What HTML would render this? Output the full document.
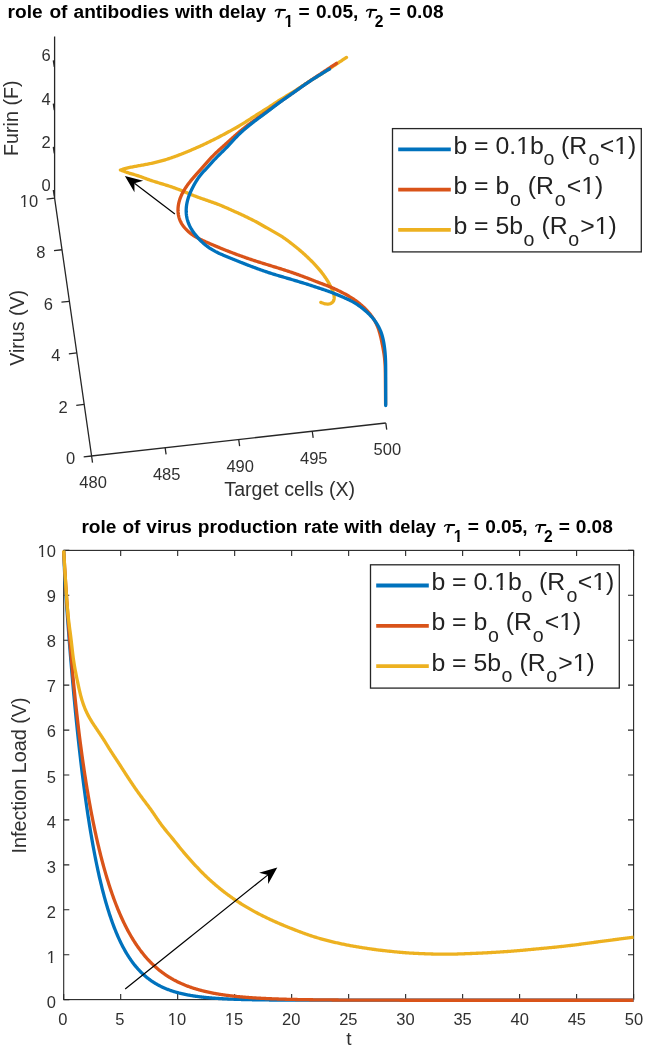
<!DOCTYPE html><html><head><meta charset="utf-8"><style>html,body{margin:0;padding:0;background:#fff;}svg{display:block;filter:blur(0.45px);}</style></head><body><svg width="645" height="1049" viewBox="0 0 645 1049" font-family="&quot;Liberation Sans&quot;, sans-serif" fill="#303030">
<rect width="645" height="1049" fill="#fff"/>
<text x="7.54" y="17.50" font-size="19.1" font-weight="bold" fill="#000">role</text>
<text x="49.45" y="17.50" font-size="19.1" font-weight="bold" fill="#000">of</text>
<text x="73.54" y="17.50" font-size="19.1" font-weight="bold" fill="#000">antibodies</text>
<text x="174.96" y="17.50" font-size="19.1" font-weight="bold" fill="#000">with</text>
<text x="218.74" y="17.50" font-size="18.5" font-weight="bold" fill="#000">delay</text>
<g transform="translate(274.80,8.80)" fill="none" stroke="#000" stroke-linecap="round"><path d="M0.5,2.3 Q1.3,0.6 3.4,0.7 L10.3,0.9" stroke-width="1.35"/><path d="M6.0,1.1 L10.2,1.1" stroke-width="2.0"/><path d="M5.0,1.6 L3.6,8.1" stroke-width="2.0"/></g>
<text x="284.52" y="26.60" font-size="15.6" font-weight="bold" fill="#000">1</text>
<text x="298.50" y="17.50" font-size="19.1" font-weight="bold" fill="#000">=</text>
<text x="315.94" y="17.50" font-size="19.1" font-weight="bold" fill="#000">0.05,</text>
<g transform="translate(366.00,8.80)" fill="none" stroke="#000" stroke-linecap="round"><path d="M0.5,2.3 Q1.3,0.6 3.4,0.7 L10.3,0.9" stroke-width="1.35"/><path d="M6.0,1.1 L10.2,1.1" stroke-width="2.0"/><path d="M5.0,1.6 L3.6,8.1" stroke-width="2.0"/></g>
<text x="374.75" y="26.90" font-size="15.6" font-weight="bold" fill="#000">2</text>
<text x="389.50" y="17.50" font-size="19.1" font-weight="bold" fill="#000">=</text>
<text x="406.44" y="17.50" font-size="19.1" font-weight="bold" fill="#000">0.08</text>
<text x="81.44" y="532.60" font-size="19.1" font-weight="bold" fill="#000">role</text>
<text x="122.45" y="532.60" font-size="19.1" font-weight="bold" fill="#000">of</text>
<text x="146.33" y="532.60" font-size="19.1" font-weight="bold" fill="#000">virus</text>
<text x="197.84" y="532.60" font-size="19.1" font-weight="bold" fill="#000">production</text>
<text x="303.84" y="532.60" font-size="19.1" font-weight="bold" fill="#000">rate</text>
<text x="344.26" y="532.60" font-size="19.1" font-weight="bold" fill="#000">with</text>
<text x="389.05" y="532.60" font-size="18.3" font-weight="bold" fill="#000">delay</text>
<g transform="translate(444.00,523.90)" fill="none" stroke="#000" stroke-linecap="round"><path d="M0.5,2.3 Q1.3,0.6 3.4,0.7 L10.3,0.9" stroke-width="1.35"/><path d="M6.0,1.1 L10.2,1.1" stroke-width="2.0"/><path d="M5.0,1.6 L3.6,8.1" stroke-width="2.0"/></g>
<text x="453.72" y="541.70" font-size="15.6" font-weight="bold" fill="#000">1</text>
<text x="467.70" y="532.60" font-size="19.1" font-weight="bold" fill="#000">=</text>
<text x="485.14" y="532.60" font-size="19.1" font-weight="bold" fill="#000">0.05,</text>
<g transform="translate(535.20,523.90)" fill="none" stroke="#000" stroke-linecap="round"><path d="M0.5,2.3 Q1.3,0.6 3.4,0.7 L10.3,0.9" stroke-width="1.35"/><path d="M6.0,1.1 L10.2,1.1" stroke-width="2.0"/><path d="M5.0,1.6 L3.6,8.1" stroke-width="2.0"/></g>
<text x="543.95" y="542.00" font-size="15.6" font-weight="bold" fill="#000">2</text>
<text x="558.70" y="532.60" font-size="19.1" font-weight="bold" fill="#000">=</text>
<text x="575.64" y="532.60" font-size="19.1" font-weight="bold" fill="#000">0.08</text>
<g stroke="#262626" stroke-width="1.3" fill="none" stroke-linecap="butt">
<path d="M54.6,36.6 L54.6,198.2 L91.6,456 L385.8,423"/>
<path d="M54.3,196.5 L53.3,190.0"/>
<path d="M54.3,153.3 L53.3,146.8"/>
<path d="M54.3,110.1 L53.3,103.6"/>
<path d="M54.3,66.9 L53.3,60.4"/>
<path d="M54.50,198.20 L46.60,199.10"/>
<path d="M61.92,249.76 L54.02,250.66"/>
<path d="M69.34,301.32 L61.44,302.22"/>
<path d="M76.76,352.88 L68.86,353.78"/>
<path d="M84.18,404.44 L76.28,405.34"/>
<path d="M91.60,456.00 L83.70,456.90"/>
<path d="M91.60,456.00 L92.53,462.60"/>
<path d="M165.15,447.75 L166.08,454.35"/>
<path d="M238.70,439.50 L239.63,446.10"/>
<path d="M312.25,431.25 L313.18,437.85"/>
<path d="M385.80,423.00 L386.73,429.60"/>
</g>
<text x="50.60" y="61.10" font-size="16.5" text-anchor="end" >6</text>
<text x="50.60" y="104.50" font-size="16.5" text-anchor="end" >4</text>
<text x="50.60" y="148.00" font-size="16.5" text-anchor="end" >2</text>
<text x="50.60" y="190.80" font-size="16.5" text-anchor="end" >0</text>
<text x="38.10" y="206.50" font-size="16.5" text-anchor="end" >10</text>
<text x="45.52" y="258.06" font-size="16.5" text-anchor="end" >8</text>
<text x="52.94" y="309.62" font-size="16.5" text-anchor="end" >6</text>
<text x="60.36" y="361.18" font-size="16.5" text-anchor="end" >4</text>
<text x="67.78" y="412.74" font-size="16.5" text-anchor="end" >2</text>
<text x="75.20" y="464.30" font-size="16.5" text-anchor="end" >0</text>
<text x="93.10" y="488.40" font-size="16.5" text-anchor="middle" >480</text>
<text x="166.65" y="480.15" font-size="16.5" text-anchor="middle" >485</text>
<text x="240.20" y="471.90" font-size="16.5" text-anchor="middle" >490</text>
<text x="313.75" y="463.65" font-size="16.5" text-anchor="middle" >495</text>
<text x="387.30" y="455.40" font-size="16.5" text-anchor="middle" >500</text>
<text x="289.70" y="496.20" font-size="19.6" text-anchor="middle" >Target cells (X)</text>
<text transform="translate(17.9,118.2) rotate(-90)" font-size="19.7" text-anchor="middle">Furin (F)</text>
<text transform="translate(23.8,327.9) rotate(-90)" font-size="19.6" text-anchor="middle">Virus (V)</text>
<g fill="none" stroke-width="3.3" stroke-linejoin="round" stroke-linecap="round">
<path stroke="#EDB120" stroke-linejoin="round" d="M346.50,57.40 L345.75,57.90 L344.99,58.40 L344.21,58.92 L343.42,59.45 L342.60,59.99 L341.77,60.54 L340.93,61.10 L340.08,61.67 L339.22,62.24 L338.36,62.81 L337.50,63.38 L336.65,63.95 L335.79,64.51 L334.94,65.08 L334.09,65.64 L333.24,66.21 L332.40,66.77 L331.55,67.33 L330.71,67.88 L329.87,68.44 L329.03,69.00 L328.20,69.55 L327.36,70.11 L326.52,70.66 L325.68,71.21 L324.85,71.76 L324.01,72.31 L323.17,72.85 L322.32,73.39 L321.48,73.93 L320.63,74.46 L319.79,74.99 L318.93,75.52 L318.08,76.04 L317.23,76.56 L316.37,77.08 L315.52,77.59 L314.66,78.11 L313.80,78.63 L312.95,79.14 L312.10,79.66 L311.25,80.19 L310.40,80.72 L309.55,81.25 L308.71,81.79 L307.87,82.33 L307.03,82.87 L306.20,83.42 L305.36,83.97 L304.53,84.53 L303.70,85.08 L302.87,85.63 L302.03,86.19 L301.20,86.74 L300.37,87.29 L299.53,87.84 L298.70,88.39 L297.86,88.93 L297.02,89.48 L296.18,90.02 L295.34,90.56 L294.49,91.09 L293.65,91.63 L292.80,92.16 L291.95,92.69 L291.10,93.21 L290.25,93.73 L289.39,94.25 L288.54,94.76 L287.68,95.28 L286.82,95.79 L285.96,96.29 L285.10,96.80 L284.24,97.31 L283.38,97.83 L282.53,98.34 L281.67,98.86 L280.82,99.39 L279.98,99.92 L279.13,100.45 L278.29,100.99 L277.45,101.54 L276.62,102.08 L275.79,102.64 L274.95,103.19 L274.12,103.74 L273.29,104.30 L272.46,104.85 L271.62,105.40 L270.79,105.95 L269.95,106.49 L269.11,107.03 L268.27,107.57 L267.42,108.11 L266.58,108.64 L265.73,109.17 L264.88,109.70 L264.04,110.23 L263.19,110.76 L262.34,111.29 L261.49,111.82 L260.65,112.35 L259.80,112.89 L258.95,113.42 L258.11,113.95 L257.26,114.49 L256.42,115.02 L255.58,115.56 L254.73,116.10 L253.89,116.64 L253.05,117.18 L252.21,117.72 L251.37,118.26 L250.53,118.80 L249.69,119.34 L248.85,119.88 L248.00,120.42 L247.16,120.96 L246.32,121.50 L245.48,122.04 L244.63,122.57 L243.79,123.11 L242.94,123.64 L242.09,124.16 L241.24,124.68 L240.38,125.20 L239.53,125.71 L238.66,126.22 L237.80,126.72 L236.93,127.22 L236.06,127.71 L235.19,128.20 L234.32,128.69 L233.45,129.17 L232.57,129.65 L231.69,130.13 L230.82,130.61 L229.94,131.09 L229.06,131.57 L228.18,132.05 L227.30,132.53 L226.43,133.00 L225.55,133.48 L224.67,133.95 L223.78,134.42 L222.90,134.89 L222.02,135.36 L221.14,135.83 L220.25,136.30 L219.37,136.76 L218.48,137.23 L217.59,137.69 L216.70,138.14 L215.81,138.60 L214.92,139.05 L214.03,139.50 L213.14,139.94 L212.24,140.39 L211.34,140.83 L210.44,141.27 L209.54,141.70 L208.64,142.14 L207.74,142.57 L206.84,143.01 L205.94,143.44 L205.04,143.87 L204.13,144.29 L203.23,144.72 L202.32,145.14 L201.42,145.56 L200.51,145.97 L199.60,146.39 L198.68,146.80 L197.77,147.21 L196.86,147.61 L195.94,148.01 L195.03,148.41 L194.11,148.81 L193.19,149.20 L192.27,149.60 L191.35,149.99 L190.43,150.39 L189.51,150.78 L188.59,151.17 L187.67,151.56 L186.75,151.94 L185.83,152.33 L184.90,152.71 L183.98,153.09 L183.05,153.46 L182.12,153.83 L181.19,154.19 L180.26,154.55 L179.33,154.91 L178.39,155.26 L177.46,155.61 L176.52,155.96 L175.58,156.30 L174.64,156.64 L173.70,156.98 L172.76,157.32 L171.81,157.65 L170.87,157.97 L169.92,158.30 L168.98,158.61 L168.03,158.92 L167.07,159.22 L166.12,159.52 L165.16,159.81 L164.21,160.09 L163.25,160.37 L162.28,160.63 L161.32,160.90 L160.36,161.16 L159.39,161.41 L158.42,161.66 L157.45,161.91 L156.48,162.16 L155.51,162.39 L154.54,162.63 L153.57,162.86 L152.59,163.08 L151.62,163.30 L150.64,163.51 L149.66,163.72 L148.68,163.92 L147.70,164.11 L146.72,164.30 L145.74,164.49 L144.75,164.67 L143.76,164.85 L142.78,165.03 L141.79,165.20 L140.80,165.38 L139.81,165.56 L138.82,165.73 L137.82,165.91 L136.83,166.09 L135.83,166.27 L134.83,166.45 L133.83,166.64 L132.82,166.83 L131.82,167.03 L130.81,167.24 L129.81,167.46 L128.80,167.69 L127.81,167.92 L126.82,168.17 L125.84,168.42 L124.88,168.68 L123.94,168.94 L123.02,169.20 L122.13,169.47 L121.26,169.73 L120.40,170.00 L120.40,170.00 L121.24,170.32 L122.11,170.65 L123.01,170.98 L123.93,171.33 L124.88,171.67 L125.84,172.02 L126.82,172.35 L127.79,172.68 L128.77,173.00 L129.74,173.30 L130.72,173.60 L131.69,173.88 L132.66,174.16 L133.63,174.44 L134.59,174.72 L135.56,175.01 L136.52,175.30 L137.47,175.60 L138.42,175.91 L139.37,176.23 L140.31,176.57 L141.25,176.90 L142.19,177.25 L143.13,177.60 L144.07,177.95 L145.00,178.30 L145.94,178.64 L146.88,178.99 L147.82,179.33 L148.76,179.67 L149.70,180.00 L150.65,180.32 L151.59,180.64 L152.54,180.95 L153.50,181.25 L154.45,181.55 L155.40,181.85 L156.36,182.15 L157.31,182.44 L158.27,182.73 L159.23,183.03 L160.18,183.32 L161.14,183.61 L162.10,183.90 L163.05,184.19 L164.01,184.48 L164.96,184.78 L165.92,185.07 L166.87,185.37 L167.83,185.67 L168.78,185.97 L169.73,186.28 L170.68,186.60 L171.63,186.92 L172.57,187.24 L173.51,187.57 L174.46,187.90 L175.40,188.24 L176.34,188.58 L177.28,188.93 L178.21,189.28 L179.15,189.63 L180.08,189.99 L181.01,190.36 L181.94,190.73 L182.86,191.11 L183.79,191.49 L184.71,191.87 L185.63,192.26 L186.55,192.64 L187.48,193.03 L188.40,193.42 L189.32,193.80 L190.24,194.19 L191.17,194.57 L192.09,194.95 L193.02,195.32 L193.95,195.69 L194.88,196.06 L195.81,196.41 L196.75,196.76 L197.69,197.10 L198.63,197.44 L199.57,197.78 L200.51,198.11 L201.46,198.44 L202.40,198.77 L203.34,199.09 L204.29,199.42 L205.23,199.75 L206.18,200.08 L207.12,200.41 L208.06,200.74 L209.01,201.08 L209.95,201.41 L210.89,201.74 L211.83,202.08 L212.78,202.41 L213.72,202.75 L214.66,203.08 L215.60,203.42 L216.54,203.77 L217.47,204.11 L218.41,204.47 L219.34,204.83 L220.27,205.20 L221.19,205.58 L222.11,205.97 L223.03,206.36 L223.95,206.75 L224.87,207.15 L225.78,207.56 L226.70,207.96 L227.61,208.37 L228.52,208.77 L229.44,209.18 L230.35,209.58 L231.26,209.99 L232.18,210.40 L233.09,210.81 L234.00,211.22 L234.91,211.63 L235.82,212.04 L236.74,212.45 L237.65,212.86 L238.56,213.27 L239.47,213.69 L240.38,214.10 L241.29,214.52 L242.19,214.93 L243.10,215.35 L244.01,215.78 L244.91,216.21 L245.81,216.64 L246.71,217.08 L247.61,217.52 L248.50,217.96 L249.40,218.40 L250.29,218.85 L251.19,219.30 L252.08,219.75 L252.97,220.20 L253.86,220.65 L254.75,221.11 L255.64,221.57 L256.52,222.04 L257.40,222.51 L258.28,222.99 L259.15,223.48 L260.02,223.96 L260.89,224.46 L261.76,224.95 L262.63,225.45 L263.50,225.95 L264.36,226.45 L265.23,226.95 L266.10,227.45 L266.96,227.94 L267.83,228.44 L268.70,228.94 L269.57,229.43 L270.43,229.93 L271.30,230.42 L272.18,230.91 L273.05,231.40 L273.92,231.89 L274.79,232.38 L275.66,232.87 L276.53,233.37 L277.40,233.86 L278.26,234.36 L279.12,234.87 L279.98,235.38 L280.83,235.91 L281.67,236.44 L282.51,236.99 L283.34,237.54 L284.16,238.11 L284.98,238.68 L285.79,239.26 L286.60,239.85 L287.41,240.44 L288.21,241.03 L289.01,241.63 L289.81,242.24 L290.60,242.84 L291.39,243.45 L292.18,244.07 L292.96,244.69 L293.75,245.31 L294.53,245.93 L295.31,246.56 L296.09,247.18 L296.87,247.81 L297.64,248.44 L298.41,249.08 L299.18,249.72 L299.95,250.36 L300.70,251.01 L301.46,251.67 L302.21,252.33 L302.96,252.99 L303.70,253.66 L304.44,254.33 L305.18,255.01 L305.91,255.69 L306.64,256.37 L307.37,257.05 L308.09,257.74 L308.82,258.43 L309.53,259.13 L310.25,259.83 L310.96,260.53 L311.66,261.24 L312.37,261.95 L313.06,262.66 L313.76,263.38 L314.45,264.11 L315.13,264.84 L315.81,265.57 L316.48,266.31 L317.15,267.05 L317.82,267.80 L318.48,268.55 L319.13,269.31 L319.77,270.07 L320.41,270.84 L321.03,271.62 L321.65,272.40 L322.25,273.20 L322.85,274.00 L323.44,274.80 L324.02,275.62 L324.60,276.43 L325.17,277.25 L325.73,278.08 L326.29,278.91 L326.83,279.75 L327.36,280.59 L327.89,281.44 L328.39,282.30 L328.88,283.16 L329.36,284.04 L329.83,284.92 L330.28,285.81 L330.72,286.71 L331.16,287.61 L331.58,288.51 L331.99,289.41 L332.39,290.33 L332.77,291.24 L333.12,292.17 L333.43,293.10 L333.71,294.04 L333.93,294.99 L334.10,295.94 L334.20,296.88 L334.22,297.82 L334.15,298.73 L333.98,299.60 L333.71,300.43 L333.32,301.21 L332.83,301.91 L332.23,302.52 L331.54,303.05 L330.77,303.47 L329.94,303.78 L329.06,303.98 L328.14,304.07 L327.20,304.06 L326.24,303.96 L325.28,303.79 L324.34,303.56 L323.41,303.29 L322.51,303.00 L321.64,302.70 L320.80,302.40"/>
<path stroke="#D95319" d="M336.50,63.30 L335.75,63.80 L334.99,64.30 L334.22,64.81 L333.44,65.33 L332.64,65.86 L331.82,66.41 L330.99,66.96 L330.15,67.51 L329.31,68.08 L328.45,68.64 L327.60,69.21 L326.74,69.78 L325.88,70.35 L325.02,70.92 L324.17,71.49 L323.31,72.06 L322.46,72.62 L321.61,73.19 L320.77,73.75 L319.92,74.31 L319.08,74.87 L318.24,75.43 L317.40,75.99 L316.56,76.55 L315.72,77.11 L314.89,77.67 L314.05,78.23 L313.22,78.79 L312.39,79.35 L311.56,79.91 L310.73,80.47 L309.90,81.04 L309.08,81.60 L308.25,82.17 L307.43,82.74 L306.61,83.30 L305.78,83.87 L304.96,84.44 L304.14,85.02 L303.32,85.59 L302.50,86.16 L301.68,86.74 L300.87,87.31 L300.05,87.89 L299.23,88.46 L298.41,89.04 L297.60,89.61 L296.78,90.19 L295.96,90.76 L295.15,91.34 L294.33,91.91 L293.51,92.49 L292.69,93.06 L291.87,93.64 L291.06,94.21 L290.24,94.78 L289.42,95.35 L288.59,95.92 L287.77,96.49 L286.95,97.06 L286.13,97.63 L285.31,98.20 L284.49,98.77 L283.67,99.34 L282.85,99.91 L282.03,100.48 L281.21,101.06 L280.40,101.63 L279.58,102.21 L278.77,102.79 L277.96,103.38 L277.15,103.96 L276.34,104.55 L275.53,105.13 L274.72,105.72 L273.91,106.31 L273.11,106.90 L272.30,107.49 L271.50,108.08 L270.69,108.67 L269.88,109.27 L269.08,109.86 L268.27,110.45 L267.46,111.03 L266.66,111.62 L265.85,112.21 L265.04,112.80 L264.23,113.38 L263.42,113.96 L262.60,114.54 L261.79,115.13 L260.98,115.70 L260.16,116.28 L259.35,116.86 L258.53,117.44 L257.71,118.01 L256.90,118.59 L256.08,119.17 L255.27,119.75 L254.46,120.33 L253.65,120.91 L252.84,121.50 L252.03,122.08 L251.22,122.67 L250.42,123.26 L249.61,123.86 L248.81,124.45 L248.01,125.05 L247.21,125.65 L246.41,126.25 L245.62,126.86 L244.83,127.46 L244.04,128.07 L243.25,128.69 L242.47,129.31 L241.69,129.93 L240.91,130.56 L240.14,131.20 L239.38,131.84 L238.62,132.48 L237.86,133.13 L237.10,133.79 L236.35,134.45 L235.61,135.11 L234.86,135.78 L234.12,136.44 L233.38,137.11 L232.64,137.78 L231.90,138.46 L231.16,139.13 L230.42,139.80 L229.68,140.48 L228.95,141.15 L228.21,141.82 L227.47,142.49 L226.72,143.16 L225.98,143.83 L225.24,144.50 L224.49,145.16 L223.75,145.83 L223.00,146.49 L222.26,147.16 L221.51,147.82 L220.76,148.49 L220.02,149.15 L219.28,149.82 L218.54,150.49 L217.80,151.16 L217.07,151.84 L216.34,152.52 L215.62,153.21 L214.90,153.90 L214.19,154.60 L213.49,155.31 L212.80,156.03 L212.11,156.75 L211.42,157.47 L210.75,158.21 L210.07,158.94 L209.41,159.68 L208.74,160.43 L208.08,161.17 L207.42,161.92 L206.76,162.67 L206.09,163.42 L205.43,164.17 L204.77,164.91 L204.10,165.66 L203.44,166.41 L202.77,167.15 L202.10,167.89 L201.43,168.63 L200.76,169.37 L200.09,170.11 L199.41,170.85 L198.74,171.59 L198.07,172.33 L197.40,173.07 L196.73,173.81 L196.07,174.56 L195.41,175.30 L194.75,176.05 L194.09,176.81 L193.44,177.56 L192.79,178.32 L192.15,179.09 L191.51,179.86 L190.88,180.63 L190.26,181.41 L189.64,182.19 L189.03,182.98 L188.43,183.78 L187.84,184.58 L187.26,185.39 L186.68,186.20 L186.12,187.02 L185.57,187.85 L185.03,188.68 L184.50,189.52 L183.99,190.38 L183.49,191.23 L183.01,192.10 L182.54,192.98 L182.10,193.86 L181.67,194.75 L181.26,195.65 L180.87,196.56 L180.50,197.48 L180.15,198.40 L179.83,199.33 L179.53,200.27 L179.25,201.22 L179.00,202.17 L178.78,203.13 L178.58,204.09 L178.41,205.06 L178.27,206.03 L178.16,207.00 L178.07,207.98 L178.02,208.96 L178.00,209.93 L178.01,210.91 L178.06,211.89 L178.14,212.86 L178.25,213.83 L178.39,214.79 L178.57,215.74 L178.79,216.69 L179.04,217.62 L179.33,218.55 L179.65,219.46 L180.01,220.36 L180.40,221.25 L180.83,222.12 L181.29,222.97 L181.78,223.81 L182.30,224.63 L182.85,225.44 L183.43,226.23 L184.03,227.00 L184.66,227.76 L185.30,228.50 L185.97,229.22 L186.65,229.93 L187.36,230.62 L188.08,231.30 L188.81,231.96 L189.56,232.60 L190.33,233.22 L191.11,233.83 L191.91,234.41 L192.71,234.98 L193.53,235.54 L194.37,236.07 L195.21,236.59 L196.07,237.10 L196.93,237.58 L197.80,238.06 L198.68,238.52 L199.57,238.97 L200.46,239.41 L201.36,239.85 L202.26,240.27 L203.17,240.69 L204.08,241.10 L204.99,241.51 L205.90,241.91 L206.81,242.31 L207.73,242.71 L208.65,243.11 L209.56,243.51 L210.48,243.90 L211.40,244.29 L212.32,244.69 L213.24,245.08 L214.16,245.47 L215.08,245.85 L216.00,246.24 L216.92,246.63 L217.85,247.01 L218.77,247.39 L219.69,247.78 L220.62,248.16 L221.54,248.54 L222.47,248.91 L223.39,249.29 L224.32,249.66 L225.25,250.03 L226.18,250.41 L227.10,250.77 L228.03,251.14 L228.96,251.50 L229.90,251.86 L230.83,252.22 L231.76,252.58 L232.70,252.94 L233.63,253.29 L234.57,253.64 L235.50,253.99 L236.44,254.33 L237.38,254.68 L238.32,255.03 L239.25,255.37 L240.19,255.71 L241.13,256.05 L242.07,256.39 L243.01,256.73 L243.95,257.07 L244.89,257.40 L245.84,257.74 L246.78,258.07 L247.72,258.40 L248.67,258.72 L249.61,259.04 L250.56,259.36 L251.51,259.68 L252.46,259.99 L253.40,260.30 L254.36,260.61 L255.31,260.92 L256.26,261.22 L257.21,261.52 L258.16,261.82 L259.12,262.12 L260.07,262.42 L261.03,262.71 L261.98,263.01 L262.93,263.31 L263.89,263.60 L264.84,263.90 L265.80,264.20 L266.75,264.49 L267.71,264.79 L268.66,265.09 L269.62,265.38 L270.57,265.68 L271.53,265.97 L272.48,266.27 L273.43,266.56 L274.39,266.86 L275.34,267.16 L276.30,267.45 L277.25,267.75 L278.21,268.05 L279.16,268.34 L280.11,268.64 L281.07,268.94 L282.02,269.24 L282.97,269.54 L283.93,269.84 L284.88,270.14 L285.83,270.45 L286.78,270.76 L287.73,271.07 L288.68,271.38 L289.63,271.70 L290.57,272.02 L291.52,272.34 L292.46,272.67 L293.41,273.00 L294.35,273.33 L295.29,273.66 L296.23,274.00 L297.17,274.33 L298.11,274.67 L299.05,275.01 L299.99,275.36 L300.93,275.70 L301.87,276.04 L302.80,276.39 L303.74,276.74 L304.68,277.09 L305.61,277.44 L306.55,277.79 L307.48,278.14 L308.41,278.50 L309.35,278.86 L310.28,279.22 L311.21,279.59 L312.14,279.95 L313.07,280.32 L314.00,280.69 L314.93,281.05 L315.86,281.42 L316.79,281.78 L317.72,282.14 L318.65,282.50 L319.58,282.86 L320.52,283.21 L321.45,283.56 L322.39,283.91 L323.32,284.26 L324.26,284.61 L325.19,284.96 L326.13,285.31 L327.06,285.66 L327.99,286.02 L328.92,286.39 L329.84,286.76 L330.76,287.14 L331.68,287.53 L332.60,287.92 L333.51,288.33 L334.42,288.74 L335.33,289.15 L336.23,289.57 L337.13,290.00 L338.03,290.44 L338.93,290.88 L339.82,291.32 L340.72,291.77 L341.61,292.22 L342.49,292.68 L343.38,293.14 L344.26,293.61 L345.14,294.08 L346.01,294.56 L346.88,295.05 L347.75,295.54 L348.61,296.04 L349.47,296.55 L350.32,297.07 L351.16,297.60 L352.00,298.14 L352.84,298.68 L353.67,299.24 L354.49,299.80 L355.30,300.38 L356.11,300.96 L356.91,301.55 L357.71,302.15 L358.50,302.76 L359.28,303.38 L360.05,304.00 L360.81,304.64 L361.57,305.29 L362.32,305.95 L363.05,306.62 L363.78,307.29 L364.50,307.98 L365.21,308.68 L365.91,309.39 L366.60,310.10 L367.28,310.83 L367.94,311.57 L368.60,312.32 L369.24,313.07 L369.87,313.84 L370.49,314.62 L371.09,315.41 L371.68,316.20 L372.26,317.01 L372.82,317.83 L373.37,318.66 L373.90,319.49 L374.41,320.34 L374.91,321.20 L375.39,322.06 L375.85,322.94 L376.29,323.82 L376.72,324.72 L377.12,325.62 L377.51,326.53 L377.88,327.45 L378.23,328.38 L378.56,329.31 L378.88,330.25 L379.17,331.20 L379.46,332.15 L379.73,333.10 L379.99,334.07 L380.24,335.03 L380.48,336.00 L380.71,336.97 L380.94,337.94 L381.16,338.91 L381.37,339.89 L381.58,340.86 L381.79,341.84 L381.99,342.82 L382.19,343.80 L382.39,344.78 L382.58,345.76 L382.77,346.74 L382.96,347.72 L383.14,348.70 L383.31,349.68 L383.48,350.67 L383.65,351.65 L383.81,352.64 L383.96,353.62 L384.10,354.61 L384.23,355.60 L384.36,356.59 L384.48,357.58 L384.59,358.57 L384.69,359.57 L384.78,360.56 L384.86,361.55 L384.94,362.55 L385.01,363.55 L385.07,364.54 L385.12,365.54 L385.17,366.54 L385.21,367.54 L385.24,368.53 L385.27,369.53 L385.29,370.53 L385.31,371.53 L385.33,372.53 L385.35,373.53 L385.36,374.54 L385.37,375.54 L385.38,376.54 L385.39,377.54 L385.40,378.55 L385.41,379.55 L385.42,380.56 L385.42,381.56 L385.43,382.57 L385.44,383.58 L385.45,384.59 L385.45,385.60 L385.46,386.62 L385.47,387.64 L385.48,388.66 L385.49,389.68 L385.49,390.71 L385.50,391.74 L385.51,392.77 L385.52,393.80 L385.52,394.83 L385.53,395.85 L385.54,396.87 L385.55,397.89 L385.55,398.89 L385.56,399.88 L385.57,400.85 L385.58,401.80 L385.58,402.73 L385.59,403.65 L385.60,404.55"/>
<path stroke="#0072BD" d="M329.50,69.00 L328.73,69.47 L327.96,69.94 L327.17,70.42 L326.36,70.91 L325.54,71.41 L324.71,71.92 L323.86,72.44 L323.00,72.97 L322.13,73.50 L321.26,74.03 L320.38,74.57 L319.50,75.11 L318.62,75.65 L317.75,76.19 L316.87,76.73 L316.00,77.27 L315.14,77.81 L314.27,78.35 L313.41,78.89 L312.56,79.44 L311.71,79.98 L310.86,80.53 L310.02,81.09 L309.18,81.64 L308.35,82.20 L307.51,82.77 L306.68,83.33 L305.86,83.90 L305.03,84.47 L304.21,85.04 L303.39,85.61 L302.57,86.19 L301.75,86.77 L300.93,87.34 L300.12,87.92 L299.30,88.50 L298.48,89.08 L297.67,89.65 L296.85,90.23 L296.04,90.81 L295.22,91.39 L294.40,91.96 L293.59,92.54 L292.77,93.12 L291.95,93.69 L291.14,94.27 L290.32,94.84 L289.50,95.41 L288.68,95.99 L287.86,96.56 L287.05,97.14 L286.23,97.71 L285.41,98.28 L284.59,98.86 L283.78,99.44 L282.96,100.02 L282.15,100.60 L281.34,101.18 L280.53,101.77 L279.72,102.36 L278.92,102.95 L278.12,103.54 L277.32,104.14 L276.52,104.74 L275.72,105.34 L274.92,105.94 L274.13,106.55 L273.33,107.15 L272.54,107.76 L271.74,108.36 L270.95,108.97 L270.16,109.58 L269.36,110.18 L268.57,110.79 L267.77,111.39 L266.97,111.99 L266.17,112.59 L265.37,113.19 L264.57,113.79 L263.77,114.39 L262.97,114.98 L262.16,115.57 L261.36,116.16 L260.55,116.75 L259.75,117.35 L258.95,117.94 L258.14,118.53 L257.34,119.13 L256.54,119.73 L255.74,120.33 L254.95,120.93 L254.16,121.54 L253.37,122.15 L252.58,122.77 L251.79,123.38 L251.01,124.00 L250.23,124.63 L249.45,125.25 L248.67,125.88 L247.90,126.51 L247.13,127.14 L246.36,127.78 L245.59,128.42 L244.83,129.06 L244.07,129.71 L243.32,130.37 L242.57,131.03 L241.83,131.69 L241.10,132.37 L240.37,133.05 L239.65,133.73 L238.93,134.43 L238.22,135.13 L237.52,135.84 L236.83,136.55 L236.13,137.27 L235.45,137.99 L234.76,138.72 L234.08,139.45 L233.40,140.18 L232.72,140.91 L232.05,141.65 L231.37,142.38 L230.69,143.12 L230.01,143.85 L229.33,144.58 L228.65,145.31 L227.96,146.04 L227.28,146.76 L226.58,147.48 L225.89,148.20 L225.19,148.91 L224.49,149.62 L223.78,150.32 L223.07,151.03 L222.36,151.73 L221.65,152.42 L220.93,153.12 L220.22,153.82 L219.50,154.51 L218.79,155.21 L218.09,155.92 L217.38,156.62 L216.68,157.33 L215.99,158.05 L215.30,158.77 L214.62,159.50 L213.94,160.23 L213.27,160.96 L212.60,161.70 L211.94,162.44 L211.27,163.19 L210.61,163.93 L209.94,164.67 L209.27,165.41 L208.60,166.14 L207.93,166.87 L207.25,167.60 L206.57,168.33 L205.89,169.05 L205.21,169.77 L204.52,170.49 L203.85,171.21 L203.18,171.94 L202.52,172.68 L201.86,173.42 L201.23,174.17 L200.60,174.94 L199.99,175.71 L199.39,176.50 L198.80,177.30 L198.23,178.10 L197.68,178.92 L197.13,179.75 L196.60,180.59 L196.08,181.44 L195.56,182.29 L195.06,183.15 L194.57,184.01 L194.08,184.88 L193.60,185.76 L193.14,186.64 L192.68,187.52 L192.23,188.41 L191.79,189.31 L191.36,190.21 L190.94,191.11 L190.54,192.02 L190.14,192.93 L189.76,193.85 L189.40,194.78 L189.05,195.70 L188.71,196.64 L188.40,197.58 L188.10,198.52 L187.82,199.47 L187.56,200.43 L187.32,201.39 L187.10,202.35 L186.90,203.32 L186.73,204.29 L186.58,205.27 L186.45,206.25 L186.34,207.23 L186.27,208.21 L186.21,209.19 L186.18,210.18 L186.18,211.16 L186.21,212.15 L186.26,213.13 L186.34,214.11 L186.44,215.09 L186.57,216.06 L186.74,217.03 L186.93,217.99 L187.14,218.95 L187.39,219.90 L187.66,220.84 L187.97,221.77 L188.29,222.70 L188.65,223.61 L189.03,224.52 L189.44,225.42 L189.86,226.30 L190.32,227.18 L190.79,228.04 L191.29,228.90 L191.80,229.74 L192.34,230.57 L192.89,231.39 L193.46,232.21 L194.04,233.01 L194.64,233.80 L195.25,234.58 L195.87,235.36 L196.51,236.13 L197.15,236.88 L197.80,237.63 L198.47,238.38 L199.14,239.11 L199.82,239.83 L200.51,240.54 L201.21,241.24 L201.93,241.93 L202.65,242.61 L203.38,243.27 L204.13,243.92 L204.89,244.56 L205.66,245.18 L206.45,245.79 L207.24,246.38 L208.04,246.96 L208.86,247.53 L209.68,248.09 L210.51,248.63 L211.35,249.16 L212.20,249.68 L213.05,250.18 L213.92,250.68 L214.79,251.16 L215.66,251.63 L216.55,252.08 L217.44,252.53 L218.33,252.96 L219.23,253.39 L220.14,253.80 L221.05,254.21 L221.96,254.61 L222.88,255.01 L223.79,255.40 L224.71,255.79 L225.63,256.17 L226.56,256.56 L227.48,256.94 L228.40,257.32 L229.33,257.70 L230.25,258.07 L231.18,258.45 L232.11,258.82 L233.03,259.20 L233.96,259.57 L234.89,259.95 L235.81,260.32 L236.74,260.69 L237.67,261.06 L238.60,261.43 L239.52,261.81 L240.45,262.18 L241.38,262.55 L242.31,262.91 L243.24,263.28 L244.17,263.65 L245.10,264.01 L246.03,264.38 L246.96,264.74 L247.89,265.10 L248.82,265.46 L249.76,265.82 L250.69,266.17 L251.62,266.52 L252.56,266.87 L253.50,267.22 L254.43,267.57 L255.37,267.91 L256.31,268.26 L257.25,268.60 L258.19,268.94 L259.13,269.28 L260.07,269.61 L261.01,269.95 L261.95,270.29 L262.89,270.62 L263.83,270.95 L264.78,271.28 L265.72,271.61 L266.67,271.93 L267.61,272.25 L268.56,272.57 L269.51,272.88 L270.46,273.19 L271.41,273.49 L272.36,273.79 L273.32,274.09 L274.27,274.39 L275.23,274.68 L276.18,274.96 L277.14,275.25 L278.10,275.53 L279.06,275.82 L280.01,276.10 L280.97,276.38 L281.93,276.66 L282.89,276.94 L283.85,277.22 L284.81,277.50 L285.77,277.78 L286.73,278.06 L287.69,278.34 L288.65,278.62 L289.60,278.91 L290.56,279.19 L291.52,279.47 L292.48,279.76 L293.44,280.04 L294.39,280.33 L295.35,280.61 L296.31,280.90 L297.27,281.18 L298.22,281.47 L299.18,281.76 L300.14,282.05 L301.09,282.34 L302.05,282.63 L303.01,282.92 L303.96,283.21 L304.92,283.50 L305.87,283.80 L306.82,284.10 L307.78,284.40 L308.73,284.70 L309.68,285.01 L310.63,285.31 L311.58,285.62 L312.53,285.94 L313.48,286.25 L314.42,286.57 L315.37,286.88 L316.32,287.20 L317.27,287.51 L318.22,287.83 L319.16,288.15 L320.11,288.46 L321.06,288.78 L322.01,289.09 L322.95,289.41 L323.90,289.72 L324.85,290.04 L325.79,290.37 L326.74,290.69 L327.68,291.02 L328.62,291.36 L329.56,291.70 L330.49,292.04 L331.43,292.40 L332.36,292.76 L333.29,293.12 L334.21,293.49 L335.14,293.86 L336.06,294.24 L336.99,294.62 L337.91,295.00 L338.83,295.39 L339.75,295.78 L340.67,296.17 L341.59,296.56 L342.51,296.95 L343.42,297.35 L344.34,297.75 L345.25,298.15 L346.16,298.56 L347.07,298.97 L347.98,299.39 L348.88,299.81 L349.77,300.25 L350.66,300.69 L351.54,301.15 L352.42,301.62 L353.29,302.10 L354.15,302.60 L355.00,303.11 L355.85,303.63 L356.68,304.16 L357.51,304.71 L358.34,305.27 L359.15,305.84 L359.96,306.42 L360.76,307.01 L361.55,307.62 L362.34,308.23 L363.12,308.85 L363.89,309.47 L364.66,310.11 L365.42,310.76 L366.17,311.41 L366.91,312.08 L367.64,312.75 L368.36,313.43 L369.07,314.12 L369.77,314.83 L370.46,315.54 L371.14,316.27 L371.80,317.01 L372.44,317.76 L373.08,318.52 L373.70,319.29 L374.30,320.08 L374.89,320.87 L375.46,321.68 L376.02,322.50 L376.56,323.33 L377.09,324.17 L377.60,325.02 L378.09,325.88 L378.57,326.74 L379.03,327.62 L379.47,328.51 L379.89,329.40 L380.29,330.31 L380.67,331.22 L381.03,332.14 L381.37,333.07 L381.69,334.01 L381.99,334.95 L382.27,335.90 L382.53,336.85 L382.78,337.81 L383.01,338.78 L383.23,339.75 L383.43,340.72 L383.62,341.70 L383.80,342.68 L383.96,343.66 L384.12,344.65 L384.27,345.63 L384.41,346.62 L384.54,347.61 L384.66,348.60 L384.77,349.59 L384.88,350.58 L384.98,351.57 L385.07,352.57 L385.15,353.56 L385.22,354.56 L385.29,355.55 L385.35,356.55 L385.41,357.55 L385.46,358.55 L385.50,359.54 L385.54,360.54 L385.57,361.54 L385.59,362.54 L385.62,363.54 L385.64,364.54 L385.65,365.53 L385.66,366.53 L385.67,367.53 L385.68,368.53 L385.69,369.53 L385.69,370.53 L385.69,371.53 L385.70,372.53 L385.70,373.54 L385.70,374.54 L385.70,375.54 L385.70,376.54 L385.70,377.54 L385.70,378.55 L385.70,379.55 L385.70,380.55 L385.70,381.56 L385.70,382.57 L385.70,383.57 L385.70,384.58 L385.70,385.59 L385.70,386.61 L385.70,387.62 L385.70,388.64 L385.70,389.66 L385.70,390.68 L385.70,391.71 L385.70,392.74 L385.70,393.77 L385.70,394.80 L385.70,395.83 L385.70,396.85 L385.70,397.88 L385.70,398.89 L385.70,399.89 L385.70,400.88 L385.70,401.85 L385.70,402.80 L385.70,403.73 L385.70,404.65 L385.70,405.55"/>
</g>
<path d="M174.90,214.00 L134.45,183.26" stroke="#000" stroke-width="1.2" fill="none"/><path d="M124.90,176.00 L143.22,180.82 L134.45,183.26 L134.45,192.36 Z" fill="#000"/>
<rect x="392.5" y="128.6" width="248.8" height="123.3" fill="#fff" stroke="#262626" stroke-width="1.3"/><path d="M398.20,149.30 L450.80,149.30" stroke="#0072BD" stroke-width="3.8"/><text x="453.41" y="153.70" font-size="24.8" fill="#222">b = 0.1b</text><text x="543.38" y="165.30" font-size="19.6" fill="#222">o</text><text x="560.96" y="153.70" font-size="24.8" fill="#222">(R</text><text x="588.38" y="165.30" font-size="19.6" fill="#222">o</text><text x="599.78" y="153.70" font-size="24.8" fill="#222">&lt;1)</text><path d="M398.20,189.60 L450.80,189.60" stroke="#D95319" stroke-width="3.8"/><text x="453.41" y="194.00" font-size="24.8" fill="#222">b = b</text><text x="509.98" y="205.60" font-size="19.6" fill="#222">o</text><text x="527.86" y="194.00" font-size="24.8" fill="#222">(R</text><text x="554.68" y="205.60" font-size="19.6" fill="#222">o</text><text x="566.68" y="194.00" font-size="24.8" fill="#222">&lt;1)</text><path d="M398.20,229.90 L450.80,229.90" stroke="#EDB120" stroke-width="3.8"/><text x="453.41" y="234.30" font-size="24.8" fill="#222">b = 5b</text><text x="523.48" y="245.90" font-size="19.6" fill="#222">o</text><text x="541.46" y="234.30" font-size="24.8" fill="#222">(R</text><text x="568.28" y="245.90" font-size="19.6" fill="#222">o</text><text x="580.28" y="234.30" font-size="24.8" fill="#222">&gt;1)</text>
<g stroke="#262626" stroke-width="1.1" fill="none">
<rect x="63.7" y="550.4" width="569.90" height="449.20"/>
<path d="M63.70,999.6 L63.70,994.0M63.70,550.4 L63.70,556.0"/>
<path d="M120.69,999.6 L120.69,994.0M120.69,550.4 L120.69,556.0"/>
<path d="M177.68,999.6 L177.68,994.0M177.68,550.4 L177.68,556.0"/>
<path d="M234.67,999.6 L234.67,994.0M234.67,550.4 L234.67,556.0"/>
<path d="M291.66,999.6 L291.66,994.0M291.66,550.4 L291.66,556.0"/>
<path d="M348.65,999.6 L348.65,994.0M348.65,550.4 L348.65,556.0"/>
<path d="M405.64,999.6 L405.64,994.0M405.64,550.4 L405.64,556.0"/>
<path d="M462.63,999.6 L462.63,994.0M462.63,550.4 L462.63,556.0"/>
<path d="M519.62,999.6 L519.62,994.0M519.62,550.4 L519.62,556.0"/>
<path d="M576.61,999.6 L576.61,994.0M576.61,550.4 L576.61,556.0"/>
<path d="M633.60,999.6 L633.60,994.0M633.60,550.4 L633.60,556.0"/>
<path d="M63.7,999.60 L69.3,999.60M633.6,999.60 L628.0,999.60"/>
<path d="M63.7,954.68 L69.3,954.68M633.6,954.68 L628.0,954.68"/>
<path d="M63.7,909.76 L69.3,909.76M633.6,909.76 L628.0,909.76"/>
<path d="M63.7,864.84 L69.3,864.84M633.6,864.84 L628.0,864.84"/>
<path d="M63.7,819.92 L69.3,819.92M633.6,819.92 L628.0,819.92"/>
<path d="M63.7,775.00 L69.3,775.00M633.6,775.00 L628.0,775.00"/>
<path d="M63.7,730.08 L69.3,730.08M633.6,730.08 L628.0,730.08"/>
<path d="M63.7,685.16 L69.3,685.16M633.6,685.16 L628.0,685.16"/>
<path d="M63.7,640.24 L69.3,640.24M633.6,640.24 L628.0,640.24"/>
<path d="M63.7,595.32 L69.3,595.32M633.6,595.32 L628.0,595.32"/>
<path d="M63.7,550.40 L69.3,550.40M633.6,550.40 L628.0,550.40"/>
</g>
<g fill="none" stroke-width="3.3" stroke-linejoin="round">
<path stroke="#0072BD" d="M63.70,551.07 L64.27,565.56 L64.84,576.84 L65.41,586.53 L65.99,595.40 L66.56,603.80 L67.13,611.89 L67.70,619.75 L68.27,627.43 L68.84,634.94 L69.41,642.29 L69.98,649.49 L70.56,656.54 L71.13,663.45 L71.70,670.23 L72.27,676.86 L72.84,683.36 L73.41,689.73 L73.98,695.98 L74.56,702.10 L75.13,708.09 L75.70,713.97 L76.27,719.72 L76.84,725.36 L77.41,730.89 L77.98,736.31 L78.55,741.61 L79.13,746.81 L79.70,751.91 L80.27,756.90 L80.84,761.79 L81.41,766.59 L81.98,771.29 L82.55,775.89 L83.13,780.40 L83.70,784.82 L84.27,789.15 L84.84,793.40 L85.41,797.56 L85.98,801.63 L86.55,805.63 L87.12,809.54 L87.70,813.38 L88.27,817.13 L88.84,820.82 L89.41,824.42 L89.98,827.96 L90.55,831.42 L91.12,834.82 L91.70,838.14 L92.27,841.40 L92.84,844.60 L93.41,847.73 L93.98,850.79 L94.55,853.80 L95.12,856.74 L95.69,859.63 L96.27,862.46 L96.84,865.23 L97.41,867.94 L97.98,870.60 L98.55,873.21 L99.12,875.77 L99.69,878.27 L100.27,880.72 L100.84,883.13 L101.41,885.48 L101.98,887.79 L102.55,890.05 L103.12,892.27 L103.69,894.44 L104.26,896.57 L104.84,898.65 L105.41,900.69 L105.98,902.70 L106.55,904.66 L107.12,906.58 L107.69,908.46 L108.26,910.31 L108.83,912.12 L109.41,913.89 L109.98,915.63 L110.55,917.33 L111.12,919.00 L111.69,920.63 L112.26,922.23 L112.83,923.80 L113.41,925.34 L113.98,926.85 L114.55,928.32 L115.12,929.77 L115.69,931.19 L116.26,932.57 L116.83,933.94 L117.40,935.27 L117.98,936.58 L118.55,937.86 L119.12,939.11 L119.69,940.34 L120.26,941.55 L120.83,942.73 L121.40,943.88 L121.98,945.02 L122.55,946.13 L123.12,947.22 L123.69,948.28 L124.26,949.33 L124.83,950.35 L125.40,951.36 L125.97,952.34 L126.55,953.30 L127.12,954.25 L127.69,955.17 L128.26,956.08 L128.83,956.97 L129.40,957.84 L129.97,958.69 L130.55,959.53 L131.12,960.35 L131.69,961.15 L132.26,961.94 L132.83,962.71 L133.40,963.46 L133.97,964.20 L134.54,964.93 L135.12,965.64 L135.69,966.34 L136.26,967.02 L136.83,967.69 L137.40,968.34 L137.97,968.98 L138.54,969.61 L139.12,970.23 L139.69,970.83 L140.26,971.43 L140.83,972.01 L141.40,972.57 L141.97,973.13 L142.54,973.68 L143.11,974.21 L143.69,974.73 L144.26,975.25 L144.83,975.75 L145.40,976.24 L145.97,976.73 L146.54,977.20 L147.11,977.66 L147.69,978.12 L148.26,978.56 L148.83,979.00 L149.40,979.43 L149.97,979.85 L150.54,980.26 L151.11,980.66 L151.68,981.06 L152.26,981.44 L152.83,981.82 L153.40,982.19 L153.97,982.55 L154.54,982.91 L155.11,983.26 L155.68,983.60 L156.26,983.94 L156.83,984.27 L157.40,984.59 L157.97,984.90 L158.54,985.21 L159.11,985.51 L159.68,985.81 L160.25,986.10 L160.83,986.39 L161.40,986.67 L161.97,986.94 L162.54,987.21 L163.11,987.47 L163.68,987.73 L164.25,987.98 L164.83,988.23 L165.40,988.47 L165.97,988.71 L166.54,988.94 L167.11,989.17 L167.68,989.39 L168.25,989.61 L168.82,989.82 L169.40,990.03 L169.97,990.24 L170.54,990.44 L171.11,990.64 L171.68,990.83 L172.25,991.02 L172.82,991.21 L173.40,991.39 L173.97,991.57 L174.54,991.74 L175.11,991.92 L175.68,992.08 L176.25,992.25 L176.82,992.41 L177.39,992.57 L177.97,992.72 L178.54,992.88 L179.11,993.02 L179.68,993.17 L180.25,993.31 L180.82,993.45 L181.39,993.59 L181.96,993.72 L182.54,993.86 L183.11,993.98 L183.68,994.11 L184.25,994.23 L184.82,994.36 L185.39,994.48 L185.96,994.59 L186.54,994.71 L187.11,994.82 L187.68,994.93 L188.25,995.04 L188.82,995.14 L189.39,995.24 L189.96,995.34 L190.53,995.44 L191.11,995.54 L191.68,995.64 L192.25,995.73 L192.82,995.82 L193.39,995.91 L193.96,996.00 L194.53,996.08 L195.11,996.17 L195.68,996.25 L196.25,996.33 L196.82,996.41 L197.39,996.49 L197.96,996.56 L198.53,996.64 L199.10,996.71 L199.68,996.78 L200.25,996.85 L200.82,996.92 L201.39,996.99 L201.96,997.06 L202.53,997.12 L203.10,997.18 L203.68,997.25 L204.25,997.31 L204.82,997.37 L205.39,997.43 L205.96,997.48 L206.53,997.54 L207.10,997.59 L207.67,997.65 L208.25,997.70 L208.82,997.75 L209.39,997.80 L209.96,997.85 L210.53,997.90 L211.10,997.95 L211.67,998.00 L212.25,998.04 L212.82,998.09 L213.39,998.13 L213.96,998.17 L214.53,998.22 L215.10,998.26 L215.67,998.30 L216.24,998.34 L216.82,998.38 L217.39,998.41 L217.96,998.45 L218.53,998.49 L219.10,998.52 L219.67,998.56 L220.24,998.59 L220.82,998.63 L221.39,998.66 L221.96,998.69 L222.53,998.73 L223.10,998.76 L223.67,998.79 L224.24,998.82 L224.81,998.85 L225.39,998.87 L225.96,998.90 L226.53,998.93 L227.10,998.96 L227.67,998.98 L228.24,999.01 L228.81,999.04 L229.39,999.06 L229.96,999.08 L230.53,999.11 L231.10,999.13 L231.67,999.15 L232.24,999.18 L232.81,999.20 L233.38,999.22 L233.96,999.24 L234.53,999.26 L235.10,999.28 L235.67,999.30 L236.24,999.32 L236.81,999.34 L237.38,999.36 L237.96,999.38 L238.53,999.40 L239.10,999.41 L239.67,999.43 L240.24,999.45 L240.81,999.47 L241.38,999.48 L241.95,999.50 L242.53,999.51 L243.10,999.53 L243.67,999.54 L244.24,999.56 L244.81,999.57 L245.38,999.59 L245.95,999.60 L246.53,999.61 L247.10,999.63 L247.67,999.64 L248.24,999.65 L248.81,999.67 L249.38,999.68 L249.95,999.69 L250.52,999.70 L251.10,999.71 L251.67,999.72 L252.24,999.74 L252.81,999.75 L253.38,999.76 L253.95,999.77 L254.52,999.78 L255.09,999.79 L255.67,999.80 L256.24,999.81 L256.81,999.82 L257.38,999.83 L257.95,999.83 L258.52,999.84 L259.09,999.85 L259.67,999.86 L260.24,999.87 L260.81,999.88 L261.38,999.88 L261.95,999.89 L262.52,999.90 L263.09,999.91 L263.66,999.91 L264.24,999.92 L264.81,999.93 L265.38,999.94 L265.95,999.94 L266.52,999.95 L267.09,999.96 L267.66,999.96 L268.24,999.97 L268.81,999.97 L269.38,999.98 L269.95,999.99 L270.52,999.99 L271.09,1000.00 L271.66,1000.00 L272.23,1000.01 L272.81,1000.01 L273.38,1000.02 L273.95,1000.02 L274.52,1000.03 L275.09,1000.03 L275.66,1000.04 L276.23,1000.04 L276.81,1000.05 L277.38,1000.05 L277.95,1000.06 L278.52,1000.06 L279.09,1000.07 L279.66,1000.07 L280.23,1000.07 L280.80,1000.08 L281.38,1000.08 L281.95,1000.09 L282.52,1000.09 L283.09,1000.09 L283.66,1000.10 L284.23,1000.10 L284.80,1000.10 L285.38,1000.11 L285.95,1000.11 L286.52,1000.11 L287.09,1000.12 L287.66,1000.12 L288.23,1000.12 L288.80,1000.13 L289.37,1000.13 L289.95,1000.13 L290.52,1000.14 L291.09,1000.14 L291.66,1000.14 L633.60,1000.27"/>
<path stroke="#D95319" d="M63.70,551.07 L64.27,560.89 L64.84,570.36 L65.41,579.51 L65.98,588.36 L66.55,596.91 L67.13,605.19 L67.70,613.20 L68.27,620.96 L68.84,628.48 L69.41,635.78 L69.98,642.86 L70.55,649.73 L71.12,656.41 L71.69,662.89 L72.26,669.20 L72.83,675.34 L73.40,681.31 L73.98,687.12 L74.55,692.78 L75.12,698.30 L75.69,703.68 L76.26,708.93 L76.83,714.05 L77.40,719.04 L77.97,723.92 L78.54,728.69 L79.11,733.34 L79.68,737.90 L80.25,742.34 L80.83,746.70 L81.40,750.95 L81.97,755.12 L82.54,759.20 L83.11,763.19 L83.68,767.10 L84.25,770.93 L84.82,774.69 L85.39,778.37 L85.96,781.97 L86.53,785.51 L87.10,788.98 L87.68,792.38 L88.25,795.71 L88.82,798.99 L89.39,802.20 L89.96,805.36 L90.53,808.45 L91.10,811.49 L91.67,814.48 L92.24,817.41 L92.81,820.29 L93.38,823.12 L93.96,825.90 L94.53,828.63 L95.10,831.32 L95.67,833.96 L96.24,836.55 L96.81,839.10 L97.38,841.60 L97.95,844.07 L98.52,846.49 L99.09,848.87 L99.66,851.22 L100.23,853.52 L100.81,855.79 L101.38,858.02 L101.95,860.21 L102.52,862.36 L103.09,864.49 L103.66,866.57 L104.23,868.63 L104.80,870.65 L105.37,872.64 L105.94,874.59 L106.51,876.52 L107.08,878.41 L107.66,880.28 L108.23,882.11 L108.80,883.92 L109.37,885.70 L109.94,887.45 L110.51,889.17 L111.08,890.87 L111.65,892.53 L112.22,894.18 L112.79,895.79 L113.36,897.39 L113.93,898.95 L114.51,900.50 L115.08,902.02 L115.65,903.51 L116.22,904.98 L116.79,906.43 L117.36,907.86 L117.93,909.26 L118.50,910.65 L119.07,912.01 L119.64,913.35 L120.21,914.67 L120.79,915.97 L121.36,917.25 L121.93,918.51 L122.50,919.75 L123.07,920.98 L123.64,922.18 L124.21,923.36 L124.78,924.53 L125.35,925.68 L125.92,926.81 L126.49,927.93 L127.06,929.02 L127.64,930.10 L128.21,931.17 L128.78,932.22 L129.35,933.25 L129.92,934.26 L130.49,935.26 L131.06,936.25 L131.63,937.22 L132.20,938.18 L132.77,939.12 L133.34,940.04 L133.91,940.96 L134.49,941.85 L135.06,942.74 L135.63,943.61 L136.20,944.47 L136.77,945.32 L137.34,946.15 L137.91,946.97 L138.48,947.78 L139.05,948.57 L139.62,949.35 L140.19,950.12 L140.76,950.88 L141.34,951.63 L141.91,952.37 L142.48,953.09 L143.05,953.81 L143.62,954.51 L144.19,955.21 L144.76,955.89 L145.33,956.56 L145.90,957.22 L146.47,957.87 L147.04,958.52 L147.62,959.15 L148.19,959.77 L148.76,960.38 L149.33,960.99 L149.90,961.58 L150.47,962.17 L151.04,962.75 L151.61,963.31 L152.18,963.87 L152.75,964.42 L153.32,964.97 L153.89,965.50 L154.47,966.03 L155.04,966.55 L155.61,967.06 L156.18,967.56 L156.75,968.05 L157.32,968.54 L157.89,969.02 L158.46,969.50 L159.03,969.96 L159.60,970.42 L160.17,970.87 L160.74,971.32 L161.32,971.76 L161.89,972.19 L162.46,972.61 L163.03,973.03 L163.60,973.44 L164.17,973.85 L164.74,974.25 L165.31,974.64 L165.88,975.03 L166.45,975.41 L167.02,975.79 L167.59,976.16 L168.17,976.53 L168.74,976.89 L169.31,977.24 L169.88,977.59 L170.45,977.93 L171.02,978.27 L171.59,978.60 L172.16,978.93 L172.73,979.25 L173.30,979.57 L173.87,979.89 L174.45,980.19 L175.02,980.50 L175.59,980.80 L176.16,981.09 L176.73,981.38 L177.30,981.67 L177.87,981.95 L178.44,982.23 L179.01,982.50 L179.58,982.77 L180.15,983.03 L180.72,983.30 L181.30,983.55 L181.87,983.81 L182.44,984.05 L183.01,984.30 L183.58,984.54 L184.15,984.78 L184.72,985.01 L185.29,985.25 L185.86,985.47 L186.43,985.70 L187.00,985.92 L187.57,986.14 L188.15,986.35 L188.72,986.56 L189.29,986.77 L189.86,986.97 L190.43,987.17 L191.00,987.37 L191.57,987.57 L192.14,987.76 L192.71,987.95 L193.28,988.14 L193.85,988.32 L194.42,988.50 L195.00,988.68 L195.57,988.85 L196.14,989.03 L196.71,989.20 L197.28,989.36 L197.85,989.53 L198.42,989.69 L198.99,989.85 L199.56,990.01 L200.13,990.17 L200.70,990.32 L201.28,990.47 L201.85,990.62 L202.42,990.76 L202.99,990.91 L203.56,991.05 L204.13,991.19 L204.70,991.33 L205.27,991.46 L205.84,991.60 L206.41,991.73 L206.98,991.86 L207.55,991.98 L208.13,992.11 L208.70,992.23 L209.27,992.35 L209.84,992.47 L210.41,992.59 L210.98,992.71 L211.55,992.82 L212.12,992.94 L212.69,993.05 L213.26,993.16 L213.83,993.26 L214.40,993.37 L214.98,993.47 L215.55,993.58 L216.12,993.68 L216.69,993.78 L217.26,993.88 L217.83,993.97 L218.40,994.07 L218.97,994.16 L219.54,994.26 L220.11,994.35 L220.68,994.44 L221.25,994.52 L221.83,994.61 L222.40,994.70 L222.97,994.78 L223.54,994.86 L224.11,994.95 L224.68,995.03 L225.25,995.11 L225.82,995.18 L226.39,995.26 L226.96,995.34 L227.53,995.41 L228.11,995.49 L228.68,995.56 L229.25,995.63 L229.82,995.70 L230.39,995.77 L230.96,995.84 L231.53,995.90 L232.10,995.97 L232.67,996.04 L233.24,996.10 L233.81,996.16 L234.38,996.23 L234.96,996.29 L235.53,996.35 L236.10,996.41 L236.67,996.47 L237.24,996.52 L237.81,996.58 L238.38,996.64 L238.95,996.69 L239.52,996.74 L240.09,996.80 L240.66,996.85 L241.23,996.90 L241.81,996.95 L242.38,997.00 L242.95,997.05 L243.52,997.10 L244.09,997.15 L244.66,997.20 L245.23,997.24 L245.80,997.29 L246.37,997.34 L246.94,997.38 L247.51,997.42 L248.09,997.47 L248.66,997.51 L249.23,997.55 L249.80,997.59 L250.37,997.63 L250.94,997.67 L251.51,997.71 L252.08,997.75 L252.65,997.79 L253.22,997.83 L253.79,997.86 L254.36,997.90 L254.94,997.94 L255.51,997.97 L256.08,998.01 L256.65,998.04 L257.22,998.07 L257.79,998.11 L258.36,998.14 L258.93,998.17 L259.50,998.20 L260.07,998.24 L260.64,998.27 L261.21,998.30 L261.79,998.33 L262.36,998.36 L262.93,998.39 L263.50,998.41 L264.07,998.44 L264.64,998.47 L265.21,998.50 L265.78,998.52 L266.35,998.55 L266.92,998.58 L267.49,998.60 L268.06,998.63 L268.64,998.65 L269.21,998.68 L269.78,998.70 L270.35,998.73 L270.92,998.75 L271.49,998.77 L272.06,998.79 L272.63,998.82 L273.20,998.84 L273.77,998.86 L274.34,998.88 L274.92,998.90 L275.49,998.92 L276.06,998.94 L276.63,998.96 L277.20,998.98 L277.77,999.00 L278.34,999.02 L278.91,999.04 L279.48,999.06 L280.05,999.08 L280.62,999.10 L281.19,999.11 L281.77,999.13 L282.34,999.15 L282.91,999.17 L283.48,999.18 L284.05,999.20 L284.62,999.22 L285.19,999.23 L285.76,999.25 L286.33,999.26 L286.90,999.28 L287.47,999.29 L288.04,999.31 L288.62,999.32 L289.19,999.34 L289.76,999.35 L290.33,999.37 L290.90,999.38 L291.47,999.39 L292.04,999.41 L292.61,999.42 L293.18,999.43 L293.75,999.45 L294.32,999.46 L294.89,999.47 L295.47,999.48 L296.04,999.49 L296.61,999.51 L297.18,999.52 L297.75,999.53 L298.32,999.54 L298.89,999.55 L299.46,999.56 L300.03,999.57 L300.60,999.58 L301.17,999.59 L301.75,999.60 L302.32,999.61 L302.89,999.62 L303.46,999.63 L304.03,999.64 L304.60,999.65 L305.17,999.66 L305.74,999.67 L306.31,999.68 L306.88,999.69 L307.45,999.70 L308.02,999.71 L308.60,999.72 L309.17,999.72 L309.74,999.73 L310.31,999.74 L310.88,999.75 L311.45,999.76 L312.02,999.77 L312.59,999.77 L313.16,999.78 L313.73,999.79 L314.30,999.80 L314.87,999.80 L315.45,999.81 L316.02,999.82 L316.59,999.82 L317.16,999.83 L317.73,999.84 L318.30,999.84 L318.87,999.85 L319.44,999.86 L320.01,999.86 L320.58,999.87 L321.15,999.88 L321.72,999.88 L322.30,999.89 L322.87,999.89 L323.44,999.90 L324.01,999.90 L324.58,999.91 L325.15,999.92 L325.72,999.92 L326.29,999.93 L326.86,999.93 L327.43,999.94 L328.00,999.94 L328.58,999.95 L329.15,999.95 L329.72,999.96 L330.29,999.96 L330.86,999.97 L331.43,999.97 L332.00,999.98 L332.57,999.98 L333.14,999.98 L333.71,999.99 L334.28,999.99 L334.85,1000.00 L335.43,1000.00 L336.00,1000.01 L336.57,1000.01 L337.14,1000.01 L337.71,1000.02 L338.28,1000.02 L338.85,1000.03 L339.42,1000.03 L339.99,1000.03 L340.56,1000.04 L341.13,1000.04 L341.70,1000.04 L342.28,1000.05 L342.85,1000.05 L343.42,1000.05 L343.99,1000.06 L344.56,1000.06 L345.13,1000.06 L345.70,1000.07 L346.27,1000.07 L346.84,1000.07 L347.41,1000.08 L347.98,1000.08 L348.55,1000.08 L349.13,1000.09 L349.70,1000.09 L350.27,1000.09 L350.84,1000.09 L351.41,1000.10 L351.98,1000.10 L352.55,1000.10 L353.12,1000.10 L353.69,1000.11 L354.26,1000.11 L354.83,1000.11 L355.41,1000.11 L355.98,1000.12 L356.55,1000.12 L357.12,1000.12 L357.69,1000.12 L358.26,1000.13 L358.83,1000.13 L359.40,1000.13 L359.97,1000.13 L360.54,1000.13 L361.11,1000.14 L361.68,1000.14 L362.26,1000.14 L362.83,1000.14 L363.40,1000.14 L363.97,1000.15 L364.54,1000.15 L365.11,1000.15 L365.68,1000.15 L366.25,1000.15 L366.82,1000.16 L367.39,1000.16 L367.96,1000.16 L368.53,1000.16 L369.11,1000.16 L369.68,1000.16 L370.25,1000.17 L370.82,1000.17 L371.39,1000.17 L371.96,1000.17 L372.53,1000.17 L373.10,1000.17 L373.67,1000.18 L374.24,1000.18 L374.81,1000.18 L375.38,1000.18 L375.96,1000.18 L376.53,1000.18 L377.10,1000.18 L377.67,1000.19 L378.24,1000.19 L378.81,1000.19 L379.38,1000.19 L379.95,1000.19 L380.52,1000.19 L381.09,1000.19 L381.66,1000.19 L382.24,1000.20 L382.81,1000.20 L383.38,1000.20 L383.95,1000.20 L384.52,1000.20 L385.09,1000.20 L385.66,1000.20 L386.23,1000.20 L386.80,1000.20 L387.37,1000.21 L387.94,1000.21 L388.51,1000.21 L389.09,1000.21 L389.66,1000.21 L390.23,1000.21 L390.80,1000.21 L391.37,1000.21 L391.94,1000.21 L392.51,1000.21 L393.08,1000.22 L393.65,1000.22 L394.22,1000.22 L394.79,1000.22 L395.36,1000.22 L395.94,1000.22 L396.51,1000.22 L397.08,1000.22 L397.65,1000.22 L398.22,1000.22 L398.79,1000.22 L399.36,1000.22 L399.93,1000.23 L400.50,1000.23 L401.07,1000.23 L401.64,1000.23 L402.21,1000.23 L402.79,1000.23 L403.36,1000.23 L403.93,1000.23 L404.50,1000.23 L405.07,1000.23 L405.64,1000.23 L633.60,1000.27"/>
<path stroke="#EDB120" d="M63.70,550.40 L63.75,551.30 L63.80,552.22 L63.86,553.16 L63.91,554.14 L63.97,555.13 L64.03,556.15 L64.08,557.17 L64.14,558.20 L64.20,559.23 L64.26,560.26 L64.32,561.28 L64.38,562.30 L64.44,563.31 L64.50,564.32 L64.56,565.33 L64.62,566.34 L64.68,567.34 L64.74,568.34 L64.80,569.34 L64.86,570.34 L64.92,571.34 L64.98,572.34 L65.05,573.34 L65.11,574.34 L65.17,575.34 L65.23,576.34 L65.30,577.34 L65.36,578.33 L65.42,579.33 L65.49,580.33 L65.55,581.33 L65.61,582.32 L65.68,583.32 L65.74,584.32 L65.81,585.32 L65.87,586.31 L65.94,587.31 L66.00,588.31 L66.06,589.31 L66.13,590.30 L66.19,591.30 L66.26,592.30 L66.33,593.29 L66.39,594.29 L66.46,595.29 L66.53,596.29 L66.60,597.28 L66.67,598.28 L66.73,599.28 L66.81,600.27 L66.88,601.27 L66.95,602.27 L67.03,603.26 L67.10,604.26 L67.18,605.26 L67.26,606.25 L67.34,607.25 L67.42,608.25 L67.51,609.24 L67.60,610.24 L67.69,611.23 L67.78,612.23 L67.88,613.22 L67.98,614.22 L68.08,615.21 L68.18,616.20 L68.29,617.20 L68.40,618.19 L68.51,619.18 L68.63,620.18 L68.74,621.17 L68.86,622.16 L68.98,623.15 L69.11,624.15 L69.23,625.14 L69.36,626.13 L69.49,627.12 L69.62,628.11 L69.75,629.10 L69.88,630.09 L70.01,631.08 L70.14,632.07 L70.27,633.07 L70.40,634.06 L70.52,635.05 L70.65,636.04 L70.78,637.03 L70.90,638.02 L71.02,639.01 L71.14,640.01 L71.26,641.00 L71.38,641.99 L71.49,642.98 L71.61,643.98 L71.72,644.97 L71.83,645.96 L71.95,646.96 L72.06,647.95 L72.17,648.94 L72.28,649.93 L72.40,650.93 L72.51,651.92 L72.63,652.91 L72.74,653.91 L72.87,654.90 L72.99,655.89 L73.12,656.88 L73.25,657.87 L73.38,658.86 L73.52,659.85 L73.67,660.84 L73.82,661.83 L73.97,662.81 L74.13,663.80 L74.29,664.79 L74.45,665.77 L74.62,666.76 L74.80,667.74 L74.97,668.73 L75.15,669.71 L75.34,670.69 L75.52,671.67 L75.71,672.65 L75.90,673.64 L76.09,674.62 L76.29,675.60 L76.48,676.58 L76.68,677.56 L76.88,678.53 L77.09,679.51 L77.29,680.49 L77.50,681.47 L77.71,682.45 L77.92,683.42 L78.13,684.40 L78.34,685.38 L78.55,686.35 L78.76,687.33 L78.98,688.31 L79.19,689.28 L79.41,690.26 L79.64,691.23 L79.87,692.20 L80.10,693.17 L80.35,694.14 L80.59,695.11 L80.85,696.08 L81.11,697.04 L81.37,698.00 L81.65,698.97 L81.93,699.92 L82.22,700.88 L82.52,701.83 L82.83,702.78 L83.15,703.73 L83.48,704.67 L83.82,705.61 L84.17,706.54 L84.54,707.47 L84.91,708.40 L85.30,709.32 L85.69,710.23 L86.10,711.15 L86.52,712.05 L86.95,712.95 L87.38,713.85 L87.83,714.74 L88.29,715.63 L88.76,716.51 L89.24,717.38 L89.74,718.25 L90.24,719.12 L90.75,719.97 L91.27,720.83 L91.79,721.67 L92.33,722.52 L92.87,723.36 L93.42,724.19 L93.97,725.03 L94.52,725.86 L95.08,726.69 L95.63,727.52 L96.19,728.35 L96.75,729.18 L97.31,730.01 L97.87,730.84 L98.43,731.66 L98.99,732.49 L99.54,733.32 L100.10,734.15 L100.66,734.98 L101.21,735.82 L101.76,736.65 L102.30,737.49 L102.85,738.33 L103.38,739.17 L103.92,740.01 L104.45,740.86 L104.98,741.71 L105.51,742.56 L106.03,743.41 L106.55,744.26 L107.08,745.11 L107.60,745.96 L108.13,746.81 L108.65,747.66 L109.18,748.51 L109.71,749.36 L110.24,750.20 L110.78,751.04 L111.32,751.88 L111.87,752.72 L112.41,753.56 L112.96,754.39 L113.51,755.23 L114.06,756.06 L114.62,756.89 L115.17,757.73 L115.72,758.56 L116.27,759.39 L116.83,760.22 L117.38,761.06 L117.92,761.89 L118.47,762.73 L119.02,763.57 L119.56,764.41 L120.10,765.25 L120.64,766.09 L121.18,766.93 L121.72,767.77 L122.25,768.62 L122.79,769.46 L123.33,770.30 L123.87,771.14 L124.41,771.98 L124.95,772.82 L125.49,773.66 L126.03,774.50 L126.58,775.34 L127.12,776.18 L127.67,777.02 L128.22,777.85 L128.76,778.69 L129.31,779.52 L129.87,780.36 L130.42,781.19 L130.97,782.02 L131.53,782.85 L132.09,783.68 L132.65,784.51 L133.21,785.33 L133.77,786.16 L134.34,786.98 L134.90,787.81 L135.47,788.63 L136.04,789.45 L136.62,790.27 L137.19,791.08 L137.77,791.90 L138.35,792.72 L138.93,793.53 L139.51,794.34 L140.10,795.15 L140.69,795.96 L141.28,796.76 L141.87,797.57 L142.46,798.37 L143.06,799.17 L143.66,799.97 L144.26,800.77 L144.86,801.57 L145.47,802.37 L146.07,803.16 L146.67,803.96 L147.27,804.76 L147.87,805.56 L148.47,806.36 L149.07,807.16 L149.66,807.97 L150.25,808.77 L150.83,809.58 L151.41,810.40 L151.99,811.21 L152.56,812.03 L153.13,812.85 L153.70,813.67 L154.26,814.50 L154.83,815.33 L155.39,816.15 L155.95,816.98 L156.51,817.81 L157.07,818.63 L157.63,819.46 L158.20,820.28 L158.77,821.10 L159.34,821.92 L159.92,822.74 L160.51,823.55 L161.09,824.35 L161.69,825.16 L162.29,825.95 L162.90,826.75 L163.51,827.54 L164.13,828.32 L164.75,829.11 L165.37,829.88 L166.00,830.66 L166.64,831.43 L167.27,832.21 L167.91,832.98 L168.55,833.74 L169.19,834.51 L169.82,835.28 L170.46,836.05 L171.10,836.82 L171.74,837.59 L172.37,838.36 L173.01,839.13 L173.64,839.91 L174.27,840.69 L174.89,841.46 L175.52,842.24 L176.15,843.02 L176.77,843.80 L177.40,844.58 L178.02,845.36 L178.65,846.14 L179.27,846.92 L179.90,847.70 L180.53,848.47 L181.16,849.24 L181.80,850.02 L182.44,850.78 L183.08,851.55 L183.73,852.31 L184.37,853.08 L185.02,853.83 L185.68,854.59 L186.33,855.35 L186.99,856.10 L187.65,856.85 L188.31,857.60 L188.97,858.35 L189.63,859.10 L190.30,859.84 L190.96,860.59 L191.63,861.33 L192.30,862.08 L192.97,862.82 L193.64,863.56 L194.31,864.29 L194.99,865.03 L195.67,865.76 L196.35,866.50 L197.03,867.23 L197.72,867.95 L198.40,868.68 L199.09,869.40 L199.78,870.12 L200.48,870.84 L201.18,871.56 L201.88,872.27 L202.58,872.98 L203.29,873.68 L204.00,874.39 L204.71,875.09 L205.43,875.78 L206.15,876.47 L206.88,877.16 L207.60,877.85 L208.34,878.53 L209.07,879.20 L209.81,879.88 L210.55,880.55 L211.29,881.22 L212.04,881.88 L212.79,882.54 L213.54,883.20 L214.30,883.85 L215.05,884.51 L215.81,885.15 L216.58,885.80 L217.34,886.44 L218.11,887.08 L218.88,887.72 L219.65,888.35 L220.43,888.98 L221.21,889.61 L221.99,890.23 L222.77,890.85 L223.56,891.47 L224.35,892.08 L225.14,892.69 L225.94,893.29 L226.73,893.90 L227.54,894.49 L228.34,895.09 L229.15,895.68 L229.96,896.26 L230.77,896.84 L231.58,897.42 L232.40,897.99 L233.22,898.56 L234.05,899.13 L234.87,899.69 L235.70,900.25 L236.53,900.80 L237.37,901.36 L238.20,901.90 L239.04,902.45 L239.88,902.99 L240.73,903.52 L241.57,904.05 L242.42,904.58 L243.27,905.11 L244.12,905.63 L244.98,906.15 L245.83,906.66 L246.69,907.17 L247.55,907.68 L248.42,908.18 L249.28,908.68 L250.15,909.18 L251.02,909.67 L251.89,910.16 L252.76,910.64 L253.64,911.13 L254.52,911.60 L255.40,912.08 L256.28,912.55 L257.16,913.02 L258.05,913.48 L258.93,913.94 L259.82,914.40 L260.71,914.85 L261.61,915.30 L262.50,915.75 L263.39,916.19 L264.29,916.63 L265.19,917.07 L266.09,917.51 L266.99,917.94 L267.89,918.37 L268.79,918.80 L269.70,919.23 L270.60,919.65 L271.51,920.07 L272.42,920.48 L273.33,920.90 L274.24,921.31 L275.15,921.72 L276.06,922.12 L276.98,922.53 L277.89,922.93 L278.81,923.32 L279.73,923.72 L280.65,924.11 L281.57,924.50 L282.49,924.89 L283.41,925.28 L284.33,925.66 L285.26,926.04 L286.18,926.42 L287.11,926.80 L288.04,927.17 L288.96,927.54 L289.89,927.91 L290.82,928.28 L291.75,928.65 L292.68,929.01 L293.61,929.38 L294.54,929.74 L295.47,930.10 L296.41,930.46 L297.34,930.82 L298.27,931.18 L299.21,931.53 L300.14,931.88 L301.08,932.23 L302.01,932.58 L302.95,932.93 L303.89,933.27 L304.83,933.61 L305.77,933.95 L306.71,934.28 L307.66,934.62 L308.60,934.94 L309.54,935.27 L310.49,935.59 L311.44,935.91 L312.39,936.22 L313.34,936.53 L314.29,936.83 L315.24,937.13 L316.20,937.43 L317.15,937.72 L318.11,938.01 L319.07,938.29 L320.03,938.56 L320.99,938.84 L321.95,939.11 L322.92,939.37 L323.88,939.63 L324.85,939.89 L325.81,940.14 L326.78,940.39 L327.75,940.64 L328.72,940.89 L329.69,941.13 L330.66,941.37 L331.63,941.60 L332.60,941.84 L333.57,942.07 L334.55,942.30 L335.52,942.52 L336.49,942.75 L337.47,942.97 L338.44,943.18 L339.42,943.40 L340.40,943.61 L341.37,943.82 L342.35,944.03 L343.33,944.23 L344.31,944.43 L345.29,944.63 L346.27,944.82 L347.25,945.02 L348.23,945.20 L349.21,945.39 L350.19,945.58 L351.18,945.76 L352.16,945.94 L353.14,946.12 L354.13,946.29 L355.11,946.46 L356.10,946.63 L357.08,946.80 L358.07,946.97 L359.05,947.13 L360.04,947.30 L361.02,947.46 L362.01,947.62 L363.00,947.78 L363.99,947.93 L364.97,948.09 L365.96,948.24 L366.95,948.39 L367.94,948.54 L368.93,948.68 L369.91,948.83 L370.90,948.97 L371.89,949.11 L372.88,949.24 L373.87,949.38 L374.86,949.51 L375.86,949.64 L376.85,949.77 L377.84,949.89 L378.83,950.02 L379.82,950.14 L380.81,950.26 L381.81,950.38 L382.80,950.49 L383.79,950.60 L384.79,950.72 L385.78,950.83 L386.77,950.94 L387.77,951.04 L388.76,951.15 L389.75,951.26 L390.75,951.36 L391.74,951.47 L392.73,951.57 L393.73,951.67 L394.72,951.77 L395.72,951.87 L396.71,951.97 L397.71,952.06 L398.70,952.16 L399.70,952.25 L400.69,952.34 L401.69,952.43 L402.68,952.51 L403.68,952.60 L404.68,952.67 L405.67,952.75 L406.67,952.83 L407.67,952.90 L408.66,952.96 L409.66,953.03 L410.66,953.09 L411.66,953.15 L412.65,953.21 L413.65,953.26 L414.65,953.31 L415.65,953.36 L416.65,953.41 L417.64,953.45 L418.64,953.50 L419.64,953.54 L420.64,953.58 L421.64,953.62 L422.64,953.66 L423.64,953.70 L424.63,953.74 L425.63,953.78 L426.63,953.82 L427.63,953.85 L428.63,953.89 L429.63,953.92 L430.63,953.95 L431.63,953.98 L432.62,954.01 L433.62,954.04 L434.62,954.07 L435.62,954.09 L436.62,954.11 L437.62,954.13 L438.62,954.15 L439.62,954.17 L440.62,954.18 L441.62,954.19 L442.62,954.20 L443.62,954.20 L444.62,954.21 L445.61,954.21 L446.61,954.21 L447.61,954.20 L448.61,954.19 L449.61,954.18 L450.61,954.17 L451.61,954.15 L452.61,954.13 L453.61,954.11 L454.61,954.09 L455.61,954.06 L456.61,954.04 L457.60,954.01 L458.60,953.97 L459.60,953.94 L460.60,953.91 L461.60,953.87 L462.60,953.84 L463.60,953.80 L464.60,953.76 L465.59,953.72 L466.59,953.68 L467.59,953.64 L468.59,953.60 L469.59,953.56 L470.59,953.52 L471.59,953.48 L472.59,953.44 L473.58,953.40 L474.58,953.35 L475.58,953.31 L476.58,953.27 L477.58,953.23 L478.58,953.18 L479.57,953.14 L480.57,953.09 L481.57,953.05 L482.57,953.00 L483.57,952.95 L484.57,952.90 L485.56,952.85 L486.56,952.80 L487.56,952.74 L488.56,952.69 L489.56,952.63 L490.55,952.58 L491.55,952.52 L492.55,952.46 L493.55,952.40 L494.54,952.34 L495.54,952.28 L496.54,952.22 L497.54,952.16 L498.53,952.10 L499.53,952.03 L500.53,951.97 L501.53,951.90 L502.52,951.84 L503.52,951.77 L504.52,951.70 L505.52,951.64 L506.51,951.57 L507.51,951.50 L508.51,951.42 L509.50,951.35 L510.50,951.28 L511.50,951.20 L512.49,951.12 L513.49,951.05 L514.49,950.97 L515.48,950.88 L516.48,950.80 L517.47,950.72 L518.47,950.63 L519.46,950.55 L520.46,950.46 L521.46,950.37 L522.45,950.28 L523.45,950.19 L524.44,950.10 L525.44,950.01 L526.43,949.92 L527.43,949.83 L528.42,949.73 L529.42,949.64 L530.41,949.55 L531.41,949.45 L532.40,949.36 L533.40,949.26 L534.39,949.17 L535.39,949.07 L536.38,948.98 L537.38,948.89 L538.37,948.79 L539.37,948.70 L540.36,948.60 L541.36,948.51 L542.35,948.41 L543.35,948.32 L544.34,948.22 L545.34,948.12 L546.33,948.03 L547.33,947.93 L548.32,947.83 L549.32,947.73 L550.31,947.64 L551.30,947.54 L552.30,947.44 L553.29,947.34 L554.29,947.24 L555.28,947.13 L556.28,947.03 L557.27,946.93 L558.26,946.83 L559.26,946.72 L560.25,946.61 L561.25,946.51 L562.24,946.40 L563.23,946.29 L564.23,946.18 L565.22,946.07 L566.21,945.96 L567.21,945.85 L568.20,945.73 L569.19,945.62 L570.18,945.50 L571.18,945.38 L572.17,945.26 L573.16,945.14 L574.15,945.02 L575.14,944.90 L576.14,944.77 L577.13,944.64 L578.12,944.52 L579.11,944.39 L580.10,944.26 L581.09,944.13 L582.08,943.99 L583.07,943.86 L584.06,943.73 L585.05,943.59 L586.04,943.46 L587.03,943.33 L588.02,943.19 L589.01,943.06 L590.00,942.92 L590.99,942.79 L591.98,942.65 L592.98,942.52 L593.97,942.38 L594.96,942.25 L595.95,942.12 L596.94,941.99 L597.93,941.85 L598.92,941.72 L599.91,941.59 L600.90,941.46 L601.89,941.33 L602.88,941.20 L603.87,941.07 L604.86,940.94 L605.86,940.81 L606.85,940.68 L607.84,940.55 L608.83,940.42 L609.82,940.28 L610.81,940.15 L611.81,940.02 L612.80,939.89 L613.79,939.76 L614.79,939.63 L615.78,939.50 L616.78,939.37 L617.77,939.24 L618.77,939.11 L619.77,938.98 L620.78,938.85 L621.79,938.71 L622.80,938.58 L623.81,938.45 L624.83,938.31 L625.85,938.18 L626.87,938.04 L627.89,937.91 L628.90,937.78 L629.89,937.65 L630.86,937.52 L631.79,937.40 L632.71,937.28 L633.60,937.16"/>
</g>
<text x="62.75" y="1025.40" font-size="16.5" text-anchor="middle" >0</text>
<text x="119.88" y="1025.40" font-size="16.5" text-anchor="middle" >5</text>
<text x="177.00" y="1025.40" font-size="16.5" text-anchor="middle" >10</text>
<text x="234.12" y="1025.40" font-size="16.5" text-anchor="middle" >15</text>
<text x="291.25" y="1025.40" font-size="16.5" text-anchor="middle" >20</text>
<text x="348.38" y="1025.40" font-size="16.5" text-anchor="middle" >25</text>
<text x="405.50" y="1025.40" font-size="16.5" text-anchor="middle" >30</text>
<text x="462.62" y="1025.40" font-size="16.5" text-anchor="middle" >35</text>
<text x="519.75" y="1025.40" font-size="16.5" text-anchor="middle" >40</text>
<text x="576.88" y="1025.40" font-size="16.5" text-anchor="middle" >45</text>
<text x="634.00" y="1025.40" font-size="16.5" text-anchor="middle" >50</text>
<text x="55.90" y="1008.00" font-size="16.5" text-anchor="end" >0</text>
<text x="55.90" y="962.90" font-size="16.5" text-anchor="end" >1</text>
<text x="55.90" y="917.80" font-size="16.5" text-anchor="end" >2</text>
<text x="55.90" y="872.70" font-size="16.5" text-anchor="end" >3</text>
<text x="55.90" y="827.60" font-size="16.5" text-anchor="end" >4</text>
<text x="55.90" y="782.50" font-size="16.5" text-anchor="end" >5</text>
<text x="55.90" y="737.40" font-size="16.5" text-anchor="end" >6</text>
<text x="55.90" y="692.30" font-size="16.5" text-anchor="end" >7</text>
<text x="55.90" y="647.20" font-size="16.5" text-anchor="end" >8</text>
<text x="55.90" y="602.10" font-size="16.5" text-anchor="end" >9</text>
<text x="55.90" y="557.00" font-size="16.5" text-anchor="end" >10</text>
<text x="349.00" y="1045.30" font-size="19" text-anchor="middle" >t</text>
<text transform="translate(25.9,775.5) rotate(-90)" font-size="19.8" text-anchor="middle">Infection Load (V)</text>
<rect x="370.5" y="564.8" width="248.8" height="123.3" fill="#fff" stroke="#262626" stroke-width="1.3"/><path d="M376.20,585.50 L428.80,585.50" stroke="#0072BD" stroke-width="3.8"/><text x="431.41" y="589.90" font-size="24.8" fill="#222">b = 0.1b</text><text x="521.38" y="601.50" font-size="19.6" fill="#222">o</text><text x="538.96" y="589.90" font-size="24.8" fill="#222">(R</text><text x="566.38" y="601.50" font-size="19.6" fill="#222">o</text><text x="577.78" y="589.90" font-size="24.8" fill="#222">&lt;1)</text><path d="M376.20,625.80 L428.80,625.80" stroke="#D95319" stroke-width="3.8"/><text x="431.41" y="630.20" font-size="24.8" fill="#222">b = b</text><text x="487.98" y="641.80" font-size="19.6" fill="#222">o</text><text x="505.86" y="630.20" font-size="24.8" fill="#222">(R</text><text x="532.68" y="641.80" font-size="19.6" fill="#222">o</text><text x="544.68" y="630.20" font-size="24.8" fill="#222">&lt;1)</text><path d="M376.20,666.10 L428.80,666.10" stroke="#EDB120" stroke-width="3.8"/><text x="431.41" y="670.50" font-size="24.8" fill="#222">b = 5b</text><text x="501.48" y="682.10" font-size="19.6" fill="#222">o</text><text x="519.46" y="670.50" font-size="24.8" fill="#222">(R</text><text x="546.28" y="682.10" font-size="19.6" fill="#222">o</text><text x="558.28" y="670.50" font-size="24.8" fill="#222">&gt;1)</text>
<path d="M125.20,989.00 L267.93,874.89" stroke="#000" stroke-width="1.2" fill="none"/><path d="M277.30,867.40 L268.16,883.99 L267.93,874.89 L259.10,872.67 Z" fill="#000"/>
<g id="f1"><rect x="284.70" y="24.11" width="3.31" height="3.19" fill="#fff"/><rect x="290.45" y="24.11" width="3.11" height="3.19" fill="#fff"/><rect x="453.90" y="539.21" width="3.31" height="3.19" fill="#fff"/><rect x="459.65" y="539.21" width="3.11" height="3.19" fill="#fff"/><rect x="20.20" y="204.37" width="3.54" height="2.83" fill="#fff"/><rect x="25.50" y="204.37" width="3.41" height="2.83" fill="#fff"/><rect x="517.22" y="150.95" width="5.00" height="3.45" fill="#fff"/><rect x="524.71" y="150.95" width="4.80" height="3.45" fill="#fff"/><rect x="615.34" y="150.95" width="5.00" height="3.45" fill="#fff"/><rect x="622.83" y="150.95" width="4.80" height="3.45" fill="#fff"/><rect x="582.24" y="191.25" width="5.00" height="3.45" fill="#fff"/><rect x="589.73" y="191.25" width="4.80" height="3.45" fill="#fff"/><rect x="595.84" y="231.55" width="5.00" height="3.45" fill="#fff"/><rect x="603.33" y="231.55" width="4.80" height="3.45" fill="#fff"/><rect x="168.28" y="1023.27" width="3.54" height="2.83" fill="#fff"/><rect x="173.58" y="1023.27" width="3.41" height="2.83" fill="#fff"/><rect x="225.40" y="1023.27" width="3.54" height="2.83" fill="#fff"/><rect x="230.70" y="1023.27" width="3.41" height="2.83" fill="#fff"/><rect x="47.17" y="960.77" width="3.54" height="2.83" fill="#fff"/><rect x="52.47" y="960.77" width="3.41" height="2.83" fill="#fff"/><rect x="38.00" y="554.87" width="3.54" height="2.83" fill="#fff"/><rect x="43.30" y="554.87" width="3.41" height="2.83" fill="#fff"/><rect x="495.22" y="587.15" width="5.00" height="3.45" fill="#fff"/><rect x="502.71" y="587.15" width="4.80" height="3.45" fill="#fff"/><rect x="593.34" y="587.15" width="5.00" height="3.45" fill="#fff"/><rect x="600.83" y="587.15" width="4.80" height="3.45" fill="#fff"/><rect x="560.24" y="627.45" width="5.00" height="3.45" fill="#fff"/><rect x="567.73" y="627.45" width="4.80" height="3.45" fill="#fff"/><rect x="573.84" y="667.75" width="5.00" height="3.45" fill="#fff"/><rect x="581.33" y="667.75" width="4.80" height="3.45" fill="#fff"/></g></svg></body></html>
